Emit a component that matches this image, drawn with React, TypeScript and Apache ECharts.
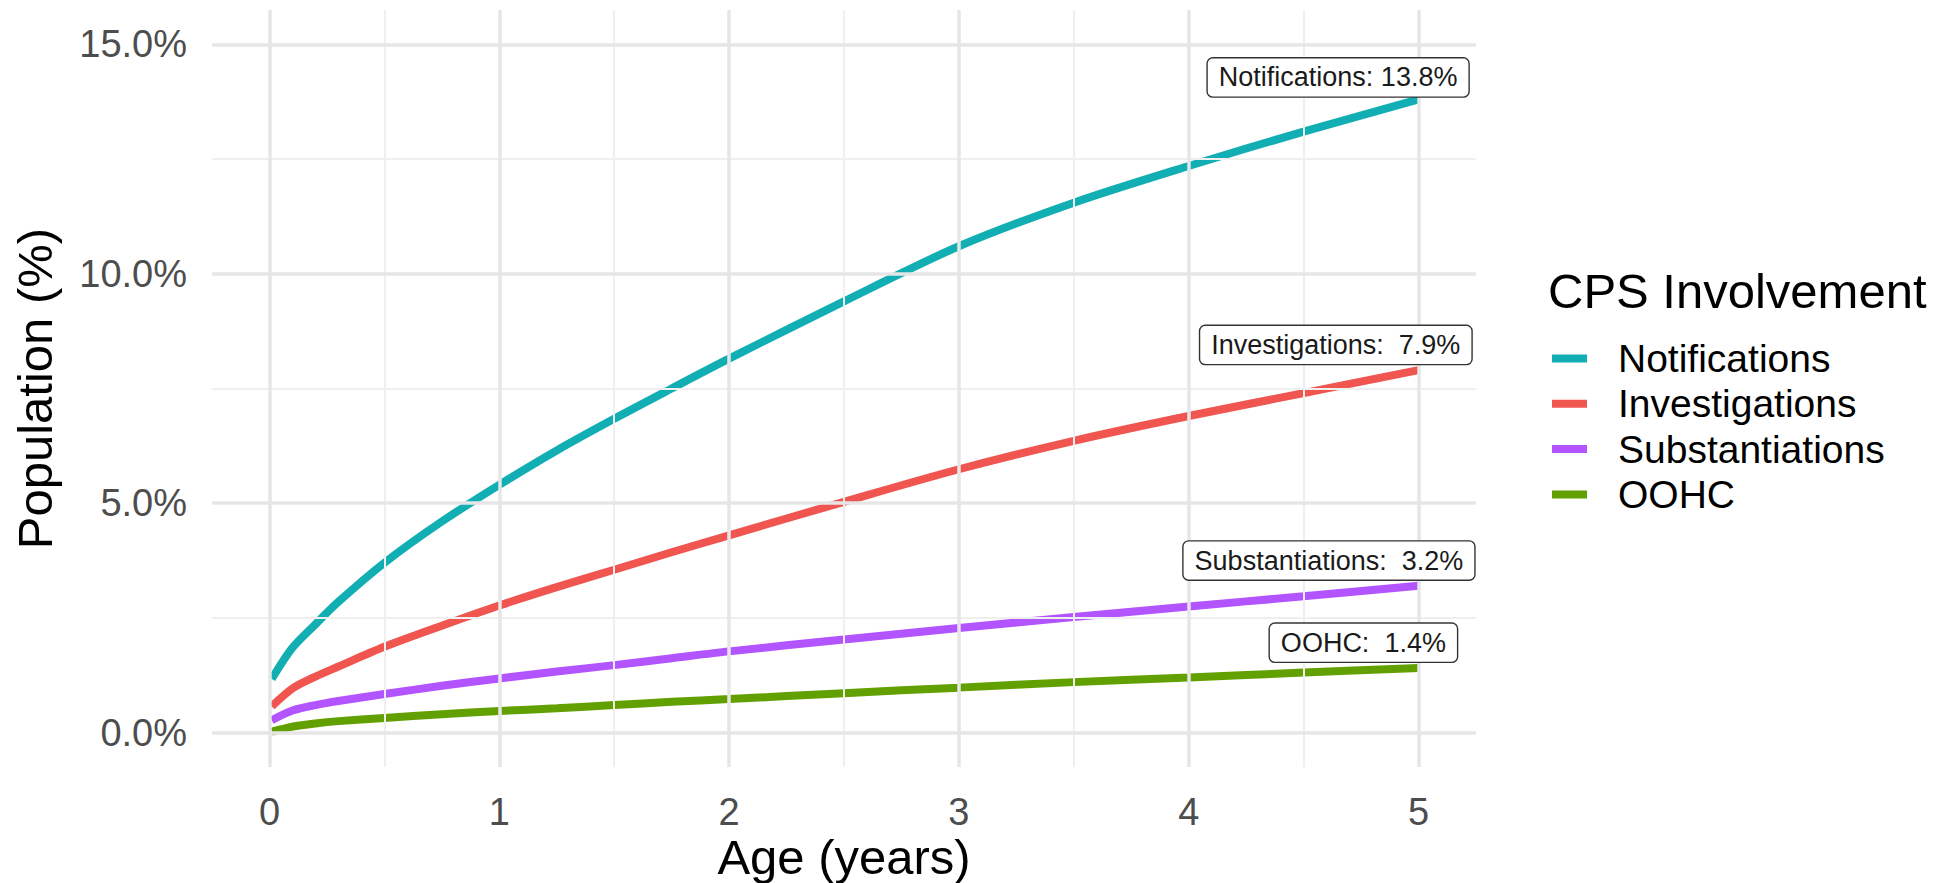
import React, { useEffect, useRef } from 'react';
import * as echarts from 'echarts';

// ---- data ----
const ages = [0.01, 0.1, 0.2, 0.3, 0.5, 0.75, 1, 1.25, 1.5, 1.75, 2, 2.5, 3, 3.5, 4, 4.5, 5];
const seriesNames = ['Notifications', 'Investigations', 'Substantiations', 'OOHC'];
const notifications = [1.17, 1.85, 2.36, 2.85, 3.7, 4.6, 5.4, 6.15, 6.84, 7.5, 8.15, 9.4, 10.6, 11.55, 12.35, 13.1, 13.8];
const investigations = [0.57, 0.96, 1.22, 1.44, 1.87, 2.33, 2.77, 3.17, 3.55, 3.93, 4.3, 5.03, 5.74, 6.36, 6.9, 7.4, 7.9];
const substantiations = [0.27, 0.48, 0.6, 0.69, 0.84, 1.02, 1.18, 1.33, 1.47, 1.62, 1.77, 2.03, 2.28, 2.52, 2.75, 2.97, 3.2];
const oohc = [0.02, 0.13, 0.2, 0.25, 0.32, 0.4, 0.47, 0.53, 0.6, 0.67, 0.73, 0.86, 0.98, 1.1, 1.2, 1.31, 1.41];
const seriesValues = [notifications, investigations, substantiations, oohc];
const seriesColors = ['#11AEB4', '#F05550', '#B254FF', '#62A000'];
const endLabelAges = [4.65, 4.64, 4.61, 4.76];
const endLabelValues = [14.28, 8.45, 3.75, 1.96];
const xTicks = [0, 1, 2, 3, 4, 5];
const yTicks = [0, 5, 10, 15];

const FONT = "'Liberation Sans', Arial, Helvetica, sans-serif";

function midpoints(ticks: number[]) {
  const out: number[] = [];
  for (let i = 0; i < ticks.length - 1; i++) out.push((ticks[i] + ticks[i + 1]) / 2);
  return out;
}

export default function App() {
  const ref = useRef<HTMLDivElement>(null);
  useEffect(() => {
    if (!ref.current) return;
    const chart = echarts.init(ref.current, null, { renderer: 'svg' });

    const major = { color: '#E6E6E6', width: 3.5, type: 'solid' };
    const minor = { color: '#EFEFEF', width: 2, type: 'solid' };
    const gridLines: any[] = [
      ...midpoints(xTicks).map((v) => ({ xAxis: v, lineStyle: minor })),
      ...midpoints(yTicks).map((v) => ({ yAxis: v, lineStyle: minor })),
      ...xTicks.map((v) => ({ xAxis: v, lineStyle: major })),
      ...yTicks.map((v) => ({ yAxis: v, lineStyle: major })),
    ];

    const lineSeries = seriesNames.map((name, i) => {
      const vals = seriesValues[i];
      const last = vals[vals.length - 1];
      const labelText = `${name}: ${last.toFixed(1).padStart(4, ' ')}%`;
      return {
        name,
        type: 'line',
        data: ages.map((a, j) => [a, vals[j]]),
        showSymbol: false,
        symbol: 'none',
        smooth: 0.3,
        z: 3,
        color: seriesColors[i],
        lineStyle: { width: 8, color: seriesColors[i], cap: 'butt' },
        markPoint: {
          silent: true,
          symbol: 'rect',
          symbolSize: 0,
          data: [{ coord: [endLabelAges[i], endLabelValues[i]] }],
          label: {
            show: true,
            position: 'inside',
            formatter: () => labelText,
            fontFamily: FONT,
            fontSize: 27,
            lineHeight: 30,
            color: '#1a1a1a',
            backgroundColor: '#ffffff',
            borderColor: '#333333',
            borderWidth: 1.4,
            borderRadius: 5,
            padding: [4, 11, 4, 11],
          },
        },
      };
    });

    const option: any = {
      animation: false,
      backgroundColor: '#ffffff',
      grid: { left: 212, right: 479, top: 10, bottom: 116, containLabel: false, outerBoundsMode: 'none' },
      xAxis: {
        type: 'value',
        min: -0.25,
        max: 5.25,
        name: 'Age (years)',
        nameLocation: 'middle',
        nameGap: 70,
        nameMoveOverlap: false,
        nameTextStyle: { fontFamily: FONT, fontSize: 49, lineHeight: 40, color: '#000000' },
        axisLine: { show: false },
        axisTick: { show: false },
        splitLine: { show: false },
        axisLabel: {
          customValues: xTicks,
          formatter: (v: number) => (Number.isInteger(v) ? String(v) : ''),
          fontFamily: FONT,
          fontSize: 38,
          color: '#4D4D4D',
          margin: 26,
        },
      },
      yAxis: {
        type: 'value',
        min: -0.75,
        max: 15.75,
        name: 'Population (%)',
        nameLocation: 'middle',
        nameGap: 153,
        nameRotate: 90,
        nameMoveOverlap: false,
        nameTextStyle: { fontFamily: FONT, fontSize: 49, color: '#000000' },
        axisLine: { show: false },
        axisTick: { show: false },
        splitLine: { show: false },
        axisLabel: {
          customValues: yTicks,
          formatter: (v: number) => (yTicks.includes(v) ? v.toFixed(1) + '%' : ''),
          fontFamily: FONT,
          fontSize: 38,
          color: '#4D4D4D',
          margin: 25,
        },
      },
      legend: {
        data: seriesNames,
        orient: 'vertical',
        left: 1552,
        top: 339,
        padding: 0,
        icon: 'rect',
        itemWidth: 35,
        itemHeight: 8,
        itemGap: 6.3,
        selectedMode: false,
        textStyle: {
          fontFamily: FONT,
          fontSize: 39,
          lineHeight: 38,
          color: '#000000',
          padding: [0, 0, 0, 26],
        },
      },
      graphic: [
        {
          type: 'text',
          left: 1548,
          top: 266,
          style: { text: 'CPS Involvement', font: `49px ${FONT}`, fill: '#000000' },
        },
      ],
      series: [
        {
          name: 'gridlines',
          type: 'line',
          data: [[0, 0]],
          symbol: 'none',
          showSymbol: false,
          silent: true,
          z: 1,
          lineStyle: { width: 0, opacity: 0 },
          markLine: {
            silent: true,
            symbol: ['none', 'none'],
            label: { show: false },
            data: gridLines,
            animation: false,
          },
        },
        ...lineSeries,
      ],
    };
    chart.setOption(option);
    return () => chart.dispose();
  }, []);
  return (
    <div
      ref={ref}
      style={{ position: 'fixed', left: 0, top: 0, width: 1955, height: 883, background: '#fff' }}
    />
  );
}
